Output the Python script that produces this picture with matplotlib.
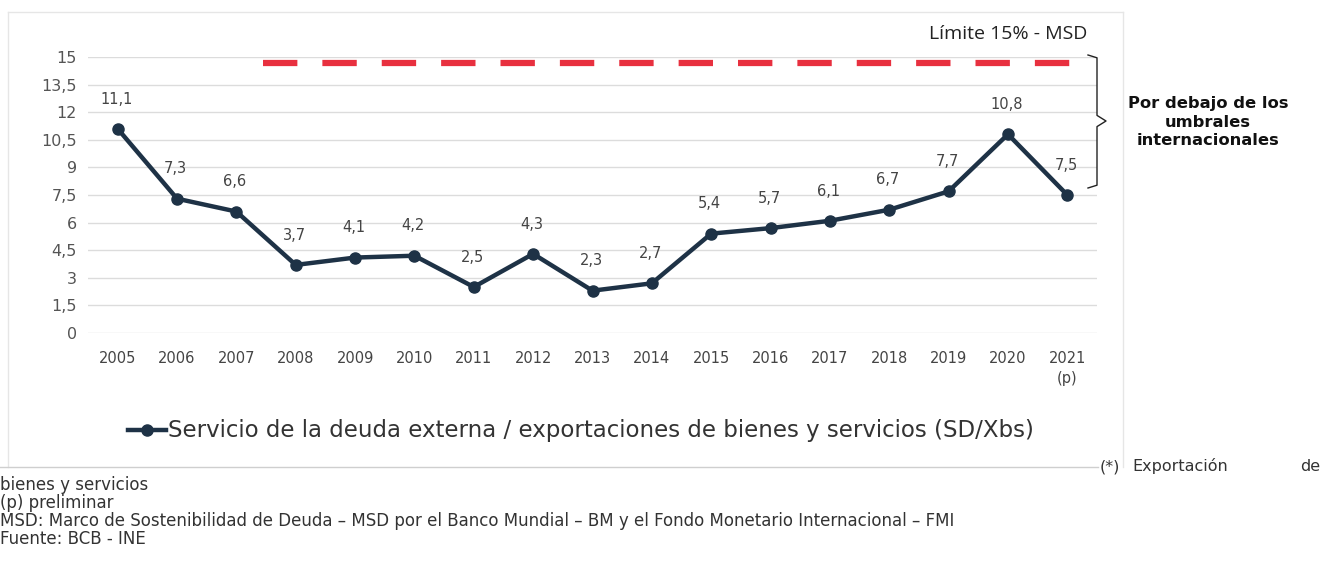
import matplotlib
matplotlib.use("Agg")
import matplotlib.pyplot as plt
from matplotlib.lines import Line2D

years = ["2005", "2006", "2007", "2008", "2009", "2010", "2011", "2012", "2013",
         "2014", "2015", "2016", "2017", "2018", "2019", "2020", "2021\n(p)"]
values = [11.1, 7.3, 6.6, 3.7, 4.1, 4.2, 2.5, 4.3, 2.3, 2.7, 5.4, 5.7, 6.1, 6.7, 7.7, 10.8, 7.5]
yticks = [0, 1.5, 3, 4.5, 6, 7.5, 9, 10.5, 12, 13.5, 15]
limit_value = 14.7
series_label = "Servicio de la deuda externa / exportaciones de bienes y servicios (SD/Xbs)"
limit_label = "Límite 15% - MSD"
bracket_label = "Por debajo de los\numbrales\ninternacionales"
notes = ["bienes y servicios", "(p) preliminar",
         "MSD: Marco de Sostenibilidad de Deuda – MSD por el Banco Mundial – BM y el Fondo Monetario Internacional – FMI",
         "Fuente: BCB - INE"]

plt.rcParams['font.family'] = ['DejaVu Sans']
GEO = ['DejaVu Sans']
CAL = ['Open Sans', 'DejaVu Sans']

W, H = 1341, 561
fig = plt.figure(figsize=(W / 100, H / 100), dpi=100)
fig.patch.set_facecolor('white')

def fx(px):
    return px / W

def fy(py):
    return 1 - py / H

# outer frame (faint)
fig.add_artist(Line2D([fx(8), fx(8)], [fy(12), fy(467)], color='#e6e6e6', lw=1))
fig.add_artist(Line2D([fx(8), fx(1123)], [fy(12), fy(12)], color='#e6e6e6', lw=1))
fig.add_artist(Line2D([fx(1123), fx(1123)], [fy(12), fy(467)], color='#e6e6e6', lw=1))
fig.add_artist(Line2D([fx(0), fx(1098)], [fy(467), fy(467)], color='#cfcfcf', lw=1))

ax = fig.add_axes([fx(88), fy(333), fx(1097) - fx(88), fy(57) - fy(333)])
x = list(range(len(years)))
ax.set_xlim(-0.5, len(years) - 0.5)
ax.set_ylim(0, 15)
for s in ax.spines.values():
    s.set_visible(False)
ax.set_yticks(yticks)
ax.set_yticklabels([f"{v:g}".replace('.', ',') for v in yticks], fontsize=11.5, color='#555555',
                   family=GEO)
ax.set_xticks(x)
ax.set_xticklabels(years, fontsize=10.5, color='#444444', linespacing=1.4, va='top', family=GEO)
ax.tick_params(length=0, pad=8)
ax.tick_params(axis='x', pad=13)
ax.grid(axis='y', color='#dcdcdc', lw=1)
ax.set_axisbelow(True)

ax.plot(x, values, color='#1e3246', lw=3.2, marker='o', ms=8, zorder=3, clip_on=False)
for xi, v in zip(x, values):
    ax.annotate(f"{v:g}".replace('.', ','), (xi, v), xytext=(-1, 16), textcoords='offset points',
                ha='center', va='bottom', fontsize=10.5, color='#444444', family=GEO)

ax.plot([2.45, 16.25], [limit_value, limit_value], color='#e8303f', lw=4.5,
        dashes=(5.5, 4), clip_on=False, zorder=2)

fig.text(fx(1008), fy(34), limit_label, ha='center', va='center', fontsize=14, color='#222222',
         family=CAL)

# bracket
bx = fx(1088); bxm = fx(1097); bmid = fx(1106)
ytop = fy(55); ybot = fy(188); ymid = fy(121)
fig.add_artist(Line2D([bx, bxm, bxm, bmid, bxm, bxm, bx],
                      [ytop, ytop - 0.005, ymid + 0.01, ymid, ymid - 0.01, ybot + 0.005, ybot],
                      color='#222222', lw=1))
fig.text(fx(1208), fy(122), bracket_label, ha='center', va='center', fontsize=11.8,
         fontweight='bold', color='#111111', linespacing=1.3, family=GEO)

# legend
fig.add_artist(Line2D([fx(128), fx(166)], [fy(430), fy(430)], color='#1e3246', lw=3.2))
fig.add_artist(Line2D([fx(147)], [fy(430)], color='#1e3246', marker='o', ms=8))
fig.text(fx(168), fy(430), series_label, ha='left', va='center', fontsize=16.5, color='#333333',
         family=GEO)

for txt, px, ha in [("(*)", 1100, 'left'), ("Exportación", 1132, 'left'), ("de", 1320, 'right')]:
    fig.text(fx(px), fy(471), txt, ha=ha, va='baseline', fontsize=11.5,
             color='#333333', family=GEO)
for i, line in enumerate(notes):
    fig.text(fx(0), fy(485 + 18 * i), line, ha='left', va='center', fontsize=12,
             color='#333333', family=GEO)

fig.savefig("out.png", dpi=100)
